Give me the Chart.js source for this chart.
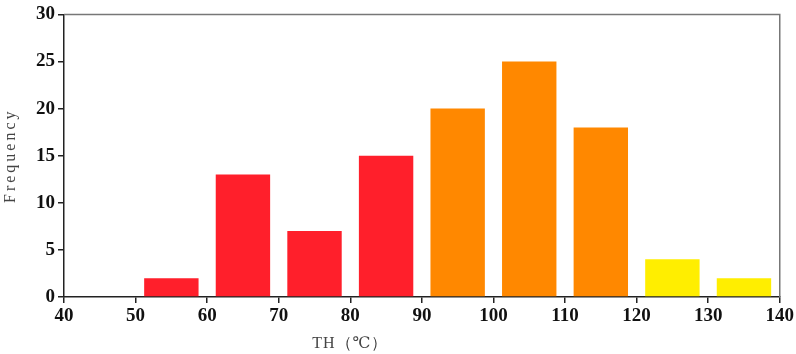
<!DOCTYPE html>
<html>
<head>
<meta charset="utf-8">
<script src="https://cdn.jsdelivr.net/npm/chart.js@4"></script>
<style>
  html, body { margin: 0; padding: 0; background: #fff; }
  #wrap { width: 796px; height: 354px; }
</style>
</head>
<body>
<div id="wrap"><canvas id="chartOne" width="796" height="354"></canvas></div>
<script>
// bin centres (TH, °C) and counts
let binCenters = [55, 65, 75, 85, 95, 105, 115, 125, 135];
let counts = [2, 13, 7, 15, 20, 25, 18, 4, 2];
let barColors = ['#ff1f2b', '#ff1f2b', '#ff1f2b', '#ff1f2b',
                 '#ff8800', '#ff8800', '#ff8800',
                 '#ffee00', '#ffee00'];
let xTitle = 'TH（℃）';
let yTitle = 'Frequency';

let points = binCenters.map((c, i) => ({ x: c, y: counts[i] }));

// top/right frame and both axis titles
const framePlugin = {
    id: 'frame',
    afterDraw(chart) {
        const c = chart.ctx;
        const a = chart.chartArea;
        c.save();
        c.strokeStyle = '#777';
        c.lineWidth = 1.5;
        c.beginPath();
        c.moveTo(a.left, a.top);
        c.lineTo(a.right, a.top);
        c.lineTo(a.right, a.bottom);
        c.stroke();

        c.fillStyle = '#444';
        c.font = '16px "Liberation Serif", "DejaVu Serif", serif';
        c.textAlign = 'center';
        c.textBaseline = 'middle';
        c.letterSpacing = '1px';
        const xs = chart.scales.x;
        c.fillText(xTitle, xs.getPixelForValue(80), 344);

        c.translate(11, (a.top + a.bottom) / 2);
        c.rotate(-Math.PI / 2);
        c.letterSpacing = '3px';
        c.fillText(yTitle, 0, 0);
        c.restore();
    }
};

var ctx = document.getElementById('chartOne').getContext('2d');
var chartOne = new Chart(ctx, {
    type: 'bar',
    data: {
        datasets: [{
            data: points,
            backgroundColor: barColors,
            borderWidth: 0,
            categoryPercentage: 1,
            barPercentage: 0.76
        }]
    },
    options: {
        responsive: false,
        animation: false,
        layout: { padding: { top: 7, right: 15, left: 0, bottom: 0 } },
        plugins: {
            legend: { display: false },
            tooltip: { enabled: false }
        },
        scales: {
            x: {
                type: 'linear',
                min: 40,
                max: 140,
                offset: false,
                afterFit: function(scale) { scale.height = 57; },
                ticks: {
                    stepSize: 10,
                    color: '#111',
                    padding: 2,
                    maxRotation: 0,
                    font: { family: '"Liberation Serif", serif', size: 19, weight: 'bold' }
                },
                grid: {
                    offset: false,
                    drawOnChartArea: false,
                    drawTicks: true,
                    tickLength: 6,
                    color: '#222',
                    lineWidth: 1.5
                },
                border: { color: '#222', width: 1.5 }
            },
            y: {
                min: 0,
                max: 30,
                afterFit: function(scale) { scale.width = 64; },
                ticks: {
                    stepSize: 5,
                    color: '#111',
                    padding: 3,
                    font: { family: '"Liberation Serif", serif', size: 19, weight: 'bold' }
                },
                grid: {
                    drawOnChartArea: false,
                    drawTicks: true,
                    tickLength: 6,
                    color: '#222',
                    lineWidth: 1.5
                },
                border: { color: '#222', width: 1.5 }
            }
        }
    },
    plugins: [framePlugin]
});
</script>
</body>
</html>
